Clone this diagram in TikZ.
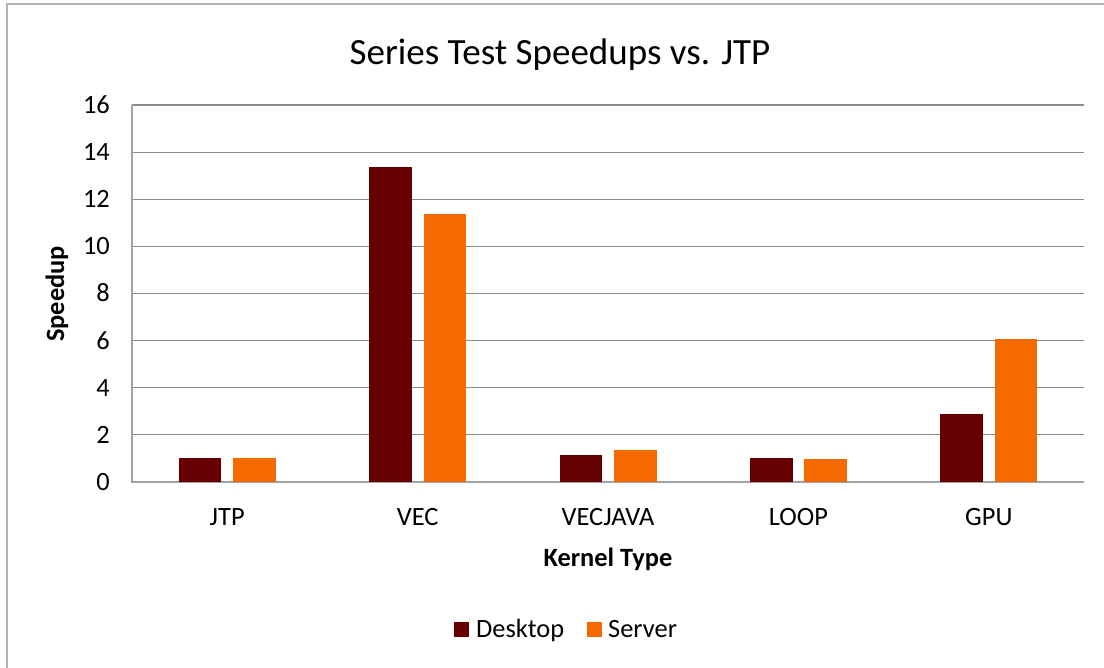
\documentclass[tikz,border=0pt]{standalone}
\usepackage{fontspec}
\setmainfont{Carlito}
\definecolor{desk}{HTML}{660000}
\definecolor{serv}{HTML}{F56A00}
\definecolor{gridc}{HTML}{8C8C8C}
\definecolor{framec}{HTML}{B4B4B4}
\tikzset{
  ticklbl/.style={anchor=base east, inner sep=0pt, font=\fontsize{26.4}{30}\selectfont},
  catlbl/.style={anchor=base, inner sep=0pt, font=\fontsize{26.4}{30}\selectfont},
  axtitle/.style={anchor=base, inner sep=0pt, font=\fontsize{26.4}{30}\selectfont\bfseries},
  legtext/.style={anchor=base west, inner sep=0pt, font=\fontsize{26.4}{30}\selectfont},
  deskbar/.style={fill=desk},
  servbar/.style={fill=serv},
  gridline/.style={draw=gridc, line width=1.2pt},
}
\begin{document}
\begin{tikzpicture}[x=1pt,y=-1pt]
\useasboundingbox (0,0) rectangle (1104,668);
\fill[white] (0,0) rectangle (1104,668);
\draw[framec, line width=2pt] (7,680) -- (7,4) -- (1110,4);
% gridlines
\foreach \v in {2,4,...,16}
  \draw[gridline] (132,{482-23.5625*\v}) -- (1084,{482-23.5625*\v});
% axes
\draw[draw=gridc!80, line width=1.5pt] (132,105) -- (132,482) -- (1084,482);
% tick labels
\foreach \v in {0,2,...,16}
  \node[ticklbl] (t\v) at (110,{482-23.5625*\v+8.4}) {\v};
% bars
\foreach \i/\d/\s/\name in {0/1.0/1.0/JTP, 1/13.38/11.37/VEC, 2/1.13/1.36/VECJAVA, 3/1.0/0.98/LOOP, 4/2.89/6.07/GPU}{
  \pgfmathsetmacro{\c}{132+190.4*(\i+0.5)}
  \fill[deskbar] ({\c-48.5},482) rectangle ({\c-5.9},{482-23.5625*\d});
  \fill[servbar] ({\c+5.9},482) rectangle ({\c+48.5},{482-23.5625*\s});
  \node[catlbl] (cat\i) at (\c,525) {\name};
}
% title
\node[anchor=base, inner sep=0pt, font=\fontsize{37}{42}\selectfont] (title) at (560,65) {Series Test Speedups vs. JTP};
% axis titles
\node[axtitle, rotate=90] (ytitle) at (64,294) {Speedup};
\node[axtitle] (xtitle) at (608,566) {Kernel Type};
% legend
\fill[deskbar] (454,622) rectangle (469,637);
\node[legtext] (legd) at (476,637) {Desktop};
\fill[servbar] (587,622) rectangle (602,637);
\node[legtext] (legs) at (608,637) {Server};
\end{tikzpicture}
\end{document}
